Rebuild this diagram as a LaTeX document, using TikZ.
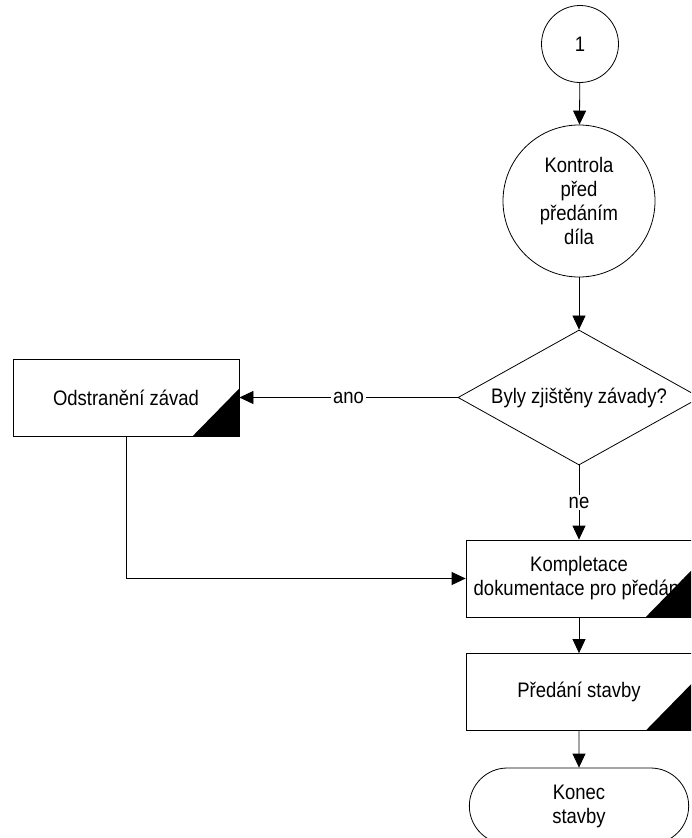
\documentclass[tikz,border=0pt]{standalone}
\usepackage{fontspec}
\setmainfont{Liberation Sans}[FakeStretch=0.88]
\usetikzlibrary{shapes.geometric,shapes.misc,arrows.meta}

\tikzset{
  conn/.style={line width=0.8pt, -{Triangle[length=14pt,width=13pt]}},
  connector/.style={draw, circle, line width=0.8pt, minimum size=77pt, inner sep=0pt},
  event/.style={draw, circle, line width=0.8pt, minimum size=152pt, inner sep=0pt, align=center},
  decision/.style={draw, diamond, aspect=1.8, line width=0.8pt, minimum width=242pt, minimum height=135pt, inner sep=0pt},
  task/.style={draw, rectangle, line width=0.8pt, minimum width=226pt, minimum height=77pt, align=center, fill=white},
  terminal/.style={draw, rounded rectangle, line width=0.8pt, minimum width=226pt, minimum height=76pt, align=center},
  lbl/.style={fill=white, inner sep=2pt}
}

\begin{document}
\begin{tikzpicture}[x=1pt, y=-1pt, font=\fontsize{21}{24}\selectfont]
    \useasboundingbox (0,0) rectangle (691,838);
    \clip (0,0) rectangle (691,838);

    % Nodes
    \node[connector] (start) at (580,44) {1};
    \node[event] (kontrola) at (579,201) {Kontrola\\před\\předáním\\díla};
    \node[decision] (zavady) at (579,397.5) {Byly zjištěny závady?};
    \node[task] (odstraneni) at (126,397.5) {Odstranění závad};
    \node[task] (kompletace) at (579,578.5) {Kompletace\\dokumentace pro předání};
    \node[task] (predani) at (579,692) {Předání stavby};
    \node[terminal] (konec) at (579,806) {Konec\\stavby};

    % Black corners of the tasks
    \foreach \n in {odstraneni,kompletace,predani}
        \fill (\n.south east) -- ++(-47pt,0pt) -- ++(47pt,48pt) -- cycle;

    % Connectors
    \draw[conn] (start) -- (kontrola);
    \draw[conn] (kontrola) -- (zavady);
    \draw[conn] (zavady) -- node[lbl] {ano} (odstraneni);
    \draw[conn] (zavady) -- node[lbl] {ne} (kompletace);
    \draw[conn] (odstraneni) |- (kompletace);
    \draw[conn] (kompletace) -- (predani);
    \draw[conn] (predani) -- (konec);
\end{tikzpicture}
\end{document}
